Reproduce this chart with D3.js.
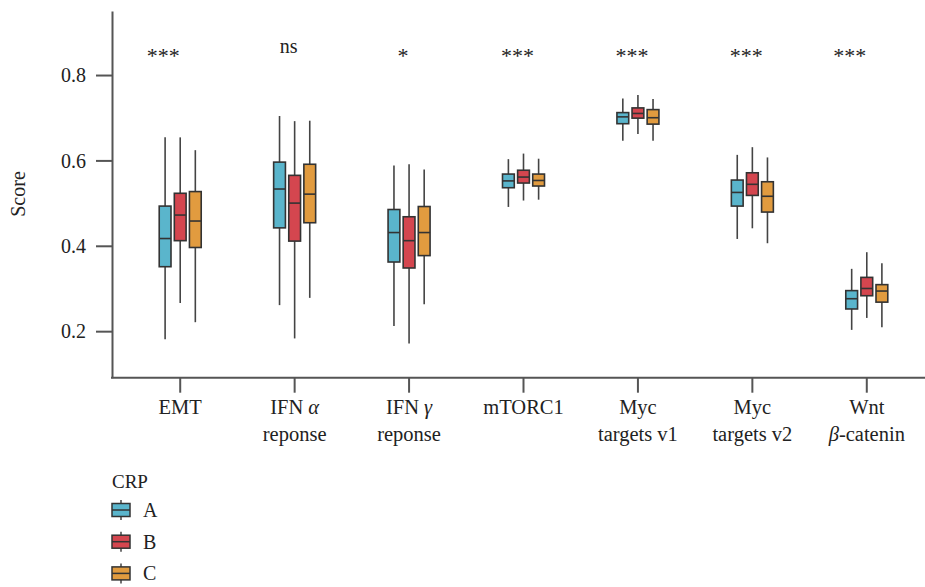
<!DOCTYPE html>
<html>
<head>
<meta charset="utf-8">
<script src="https://cdn.jsdelivr.net/npm/d3@7"></script>
<style>
  body { margin: 0; background: #fff; }
  text { font-family: "Liberation Serif", "DejaVu Serif", serif; fill: #222; }
</style>
</head>
<body>
<div id="chart"></div>
<script>
var w = 925;
var h = 587;

// categories: [first line, greek (italic), second line]
var categories = ["EMT", "IFN alpha", "IFN gamma", "mTORC1", "Myc v1", "Myc v2", "Wnt"];
var labelLine1 = [["EMT"], ["IFN ", "α"], ["IFN ", "γ"], ["mTORC1"], ["Myc"], ["Myc"], ["Wnt"]];
var labelLine2 = [[], ["reponse"], ["reponse"], [], ["targets v1"], ["targets v2"], ["β", "-catenin"]];
var signif = ["***", "ns", "*", "***", "***", "***", "***"];
var groups = ["A", "B", "C"];
var colors = ["#5ab5cc", "#d4464f", "#e19b3f"];
var yTicks = [0.2, 0.4, 0.6, 0.8];

// box stats per group: [lower whisker, Q1, median, Q3, upper whisker], one row per category
var statsA = [
  [0.181, 0.351, 0.417, 0.493, 0.654],
  [0.261, 0.442, 0.533, 0.596, 0.704],
  [0.212, 0.362, 0.431, 0.485, 0.588],
  [0.491, 0.536, 0.552, 0.568, 0.603],
  [0.646, 0.686, 0.702, 0.712, 0.745],
  [0.416, 0.493, 0.525, 0.554, 0.613],
  [0.203, 0.252, 0.276, 0.295, 0.346]
];
var statsB = [
  [0.266, 0.412, 0.472, 0.523, 0.654],
  [0.183, 0.411, 0.500, 0.565, 0.692],
  [0.171, 0.348, 0.412, 0.468, 0.591],
  [0.506, 0.547, 0.561, 0.577, 0.616],
  [0.662, 0.699, 0.710, 0.723, 0.753],
  [0.441, 0.518, 0.544, 0.571, 0.631],
  [0.231, 0.283, 0.300, 0.326, 0.385]
];
var statsC = [
  [0.221, 0.396, 0.458, 0.527, 0.624],
  [0.278, 0.454, 0.521, 0.591, 0.693],
  [0.263, 0.377, 0.431, 0.492, 0.579],
  [0.508, 0.540, 0.553, 0.568, 0.604],
  [0.646, 0.685, 0.700, 0.719, 0.744],
  [0.406, 0.479, 0.516, 0.550, 0.607],
  [0.209, 0.268, 0.294, 0.309, 0.359]
];
var allStats = [statsA, statsB, statsC];

var svg = d3.select("#chart").append("svg")
  .attr("width", w)
  .attr("height", h);

var axisLeftX = 112;
var axisBottomY = 377.7;

var yScale = d3.scaleLinear()
  .domain([0.091, 0.95])
  .range([axisBottomY, 11]);

var xScale = d3.scaleBand()
  .domain(categories)
  .range([123, 924])
  .padding(0);

var gScale = d3.scaleBand()
  .domain(groups)
  .range([-21, 21])
  .paddingInner(0.22)
  .paddingOuter(0);

// Y axis
var yAxis = svg.append("g")
  .attr("transform", "translate(" + axisLeftX + ",0)")
  .call(d3.axisLeft(yScale).tickValues(yTicks).tickSize(16).tickSizeOuter(0).tickPadding(10).tickFormat(d3.format(".1f")));
yAxis.attr("font-family", null);
yAxis.select(".domain").attr("stroke", "#555").attr("stroke-width", 2);
yAxis.selectAll(".tick line").attr("stroke", "#555").attr("stroke-width", 2);
yAxis.selectAll(".tick text")
  .attr("font-size", 20)
  .attr("dy", "0.34em")
  .attr("fill", "#222");

// X axis
var xAxis = svg.append("g")
  .attr("transform", "translate(0," + axisBottomY + ")")
  .call(d3.axisBottom(xScale).tickSize(15).tickFormat(""));
xAxis.select(".domain").remove();
xAxis.selectAll(".tick line").attr("stroke", "#555").attr("stroke-width", 2);
svg.append("line")
  .attr("x1", axisLeftX - 1)
  .attr("x2", w)
  .attr("y1", axisBottomY)
  .attr("y2", axisBottomY)
  .attr("stroke", "#555")
  .attr("stroke-width", 2);

// Category labels
function writeParts(textSel, parts) {
  parts.forEach(function (p) {
    var isGreek = /[αβγ]/.test(p);
    textSel.append("tspan")
      .attr("font-style", isGreek ? "italic" : null)
      .text(p);
  });
}
categories.forEach(function (c, i) {
  var cx = xScale(c) + xScale.bandwidth() / 2;
  var t1 = svg.append("text")
    .attr("x", cx)
    .attr("y", 414)
    .attr("text-anchor", "middle")
    .attr("font-size", 20.5);
  writeParts(t1, labelLine1[i]);
  if (labelLine2[i].length) {
    var t2 = svg.append("text")
      .attr("x", cx)
      .attr("y", 441)
      .attr("text-anchor", "middle")
      .attr("font-size", 20.5);
    writeParts(t2, labelLine2[i]);
  }
});

// Significance labels
svg.selectAll(".sig")
  .data(signif)
  .enter()
  .append("text")
  .attr("class", "sig")
  .attr("x", function (d, i) { return xScale(categories[i]) + xScale.bandwidth() / 2 - (i === 0 || i === 6 ? 17 : 6); })
  .attr("y", function (d) { return d === "ns" ? 53 : 63; })
  .attr("text-anchor", "middle")
  .attr("font-size", function (d) { return d === "ns" ? 20 : 22; })
  .attr("fill", function (d) { return d === "ns" ? "#222" : "#555"; })
  .text(function (d) { return d; });

// Boxes
var boxW = gScale.bandwidth();
groups.forEach(function (g, gi) {
  var layer = svg.append("g");
  var data = allStats[gi].map(function (s, i) { return { cat: categories[i], s: s }; });
  var cx = function (d) { return xScale(d.cat) + xScale.bandwidth() / 2 + gScale(g) + boxW / 2; };

  layer.selectAll(".whisker")
    .data(data)
    .enter()
    .append("line")
    .attr("x1", cx)
    .attr("x2", cx)
    .attr("y1", function (d) { return yScale(d.s[0]); })
    .attr("y2", function (d) { return yScale(d.s[4]); })
    .attr("stroke", "#444")
    .attr("stroke-width", 1.6);

  layer.selectAll(".box")
    .data(data)
    .enter()
    .append("rect")
    .attr("x", function (d) { return cx(d) - boxW / 2; })
    .attr("y", function (d) { return yScale(d.s[3]); })
    .attr("width", boxW)
    .attr("height", function (d) { return yScale(d.s[1]) - yScale(d.s[3]); })
    .attr("fill", colors[gi])
    .attr("stroke", "#333")
    .attr("stroke-width", 1.6);

  layer.selectAll(".median")
    .data(data)
    .enter()
    .append("line")
    .attr("x1", function (d) { return cx(d) - boxW / 2; })
    .attr("x2", function (d) { return cx(d) + boxW / 2; })
    .attr("y1", function (d) { return yScale(d.s[2]); })
    .attr("y2", function (d) { return yScale(d.s[2]); })
    .attr("stroke", "#333")
    .attr("stroke-width", 1.6);
});

// Y title
svg.append("text")
  .attr("transform", "translate(25,194) rotate(-90)")
  .attr("text-anchor", "middle")
  .attr("font-size", 20)
  .text("Score");

// Legend
var legend = svg.append("g").attr("transform", "translate(112,0)");
legend.append("text")
  .attr("x", 0)
  .attr("y", 488)
  .attr("font-size", 19)
  .text("CRP");
groups.forEach(function (g, gi) {
  var cy = 510 + gi * 31.7;
  legend.append("line")
    .attr("x1", 9).attr("x2", 9)
    .attr("y1", cy - 10).attr("y2", cy + 10)
    .attr("stroke", "#444").attr("stroke-width", 1.5);
  legend.append("rect")
    .attr("x", 0).attr("y", cy - 6.5)
    .attr("width", 18).attr("height", 13)
    .attr("fill", colors[gi])
    .attr("stroke", "#333").attr("stroke-width", 1.5);
  legend.append("line")
    .attr("x1", 0).attr("x2", 18)
    .attr("y1", cy).attr("y2", cy)
    .attr("stroke", "#333").attr("stroke-width", 1.5);
  legend.append("text")
    .attr("x", 31)
    .attr("y", cy + 7)
    .attr("font-size", 20)
    .text(g);
});
</script>
</body>
</html>
